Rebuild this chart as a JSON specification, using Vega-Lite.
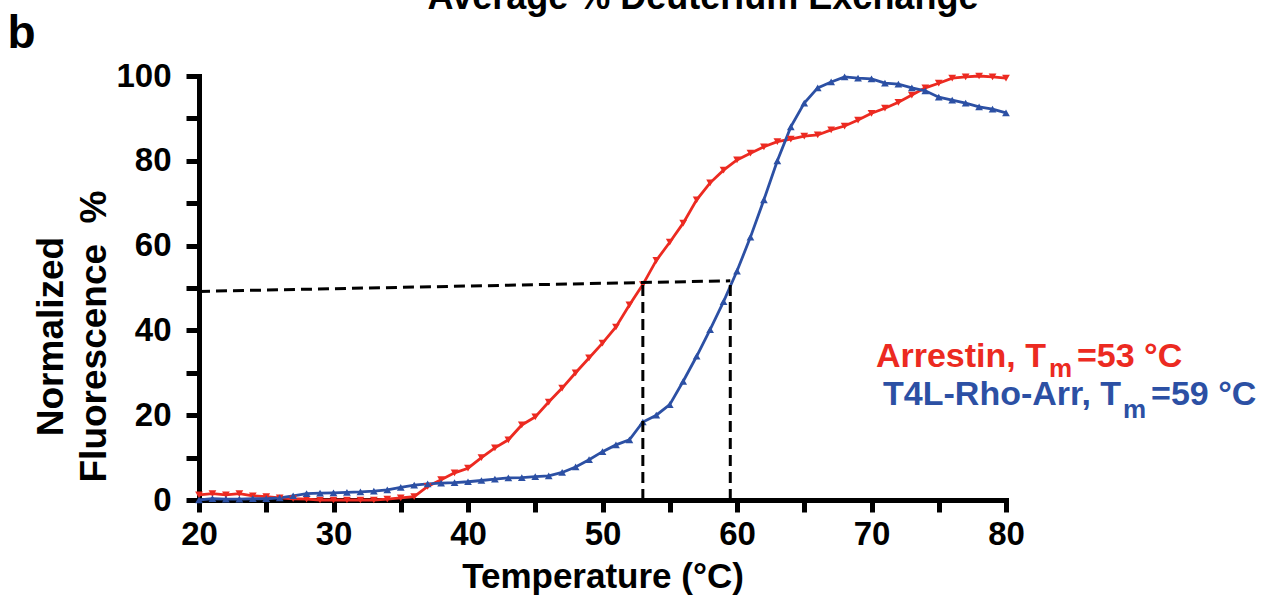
{
  "$schema": "https://vega.github.io/schema/vega-lite/v6.json",
  "width": 807,
  "height": 424,
  "autosize": {"type": "none"},
  "padding": {"left": 199, "top": 76, "right": 258, "bottom": 96},
  "background": "white",
  "config": {
    "view": {"stroke": null},
    "font": "Liberation Sans",
    "axis": {"grid": false, "domainColor": "black", "domainWidth": 5, "tickColor": "black", "labelColor": "black", "titleColor": "black"}
  },
  "datasets": {
    "curves": [
      {"T":20,"v":1.2,"s":"Arrestin"},{"T":21,"v":1.5,"s":"Arrestin"},{"T":22,"v":1.2,"s":"Arrestin"},{"T":23,"v":1.5,"s":"Arrestin"},{"T":24,"v":1.0,"s":"Arrestin"},{"T":25,"v":0.8,"s":"Arrestin"},{"T":26,"v":0.5,"s":"Arrestin"},{"T":27,"v":0.3,"s":"Arrestin"},{"T":28,"v":0.2,"s":"Arrestin"},{"T":29,"v":0.0,"s":"Arrestin"},
      {"T":30,"v":0.0,"s":"Arrestin"},{"T":31,"v":0.0,"s":"Arrestin"},{"T":32,"v":0.0,"s":"Arrestin"},{"T":33,"v":0.0,"s":"Arrestin"},{"T":34,"v":0.2,"s":"Arrestin"},{"T":35,"v":0.5,"s":"Arrestin"},{"T":36,"v":0.8,"s":"Arrestin"},{"T":37,"v":3.2,"s":"Arrestin"},{"T":38,"v":4.8,"s":"Arrestin"},{"T":39,"v":6.4,"s":"Arrestin"},
      {"T":40,"v":7.5,"s":"Arrestin"},{"T":41,"v":10.0,"s":"Arrestin"},{"T":42,"v":12.3,"s":"Arrestin"},{"T":43,"v":14.2,"s":"Arrestin"},{"T":44,"v":17.7,"s":"Arrestin"},{"T":45,"v":19.6,"s":"Arrestin"},{"T":46,"v":23.1,"s":"Arrestin"},{"T":47,"v":26.4,"s":"Arrestin"},{"T":48,"v":30.0,"s":"Arrestin"},{"T":49,"v":33.5,"s":"Arrestin"},
      {"T":50,"v":37.0,"s":"Arrestin"},{"T":51,"v":40.8,"s":"Arrestin"},{"T":52,"v":46.0,"s":"Arrestin"},{"T":53,"v":50.8,"s":"Arrestin"},{"T":54,"v":56.5,"s":"Arrestin"},{"T":55,"v":60.8,"s":"Arrestin"},{"T":56,"v":65.3,"s":"Arrestin"},{"T":57,"v":70.8,"s":"Arrestin"},{"T":58,"v":74.8,"s":"Arrestin"},{"T":59,"v":77.8,"s":"Arrestin"},
      {"T":60,"v":80.2,"s":"Arrestin"},{"T":61,"v":81.8,"s":"Arrestin"},{"T":62,"v":83.3,"s":"Arrestin"},{"T":63,"v":84.5,"s":"Arrestin"},{"T":64,"v":85.1,"s":"Arrestin"},{"T":65,"v":85.8,"s":"Arrestin"},{"T":66,"v":86.1,"s":"Arrestin"},{"T":67,"v":87.3,"s":"Arrestin"},{"T":68,"v":88.2,"s":"Arrestin"},{"T":69,"v":89.6,"s":"Arrestin"},
      {"T":70,"v":91.2,"s":"Arrestin"},{"T":71,"v":92.4,"s":"Arrestin"},{"T":72,"v":93.8,"s":"Arrestin"},{"T":73,"v":95.5,"s":"Arrestin"},{"T":74,"v":97.2,"s":"Arrestin"},{"T":75,"v":98.3,"s":"Arrestin"},{"T":76,"v":99.5,"s":"Arrestin"},{"T":77,"v":99.8,"s":"Arrestin"},{"T":78,"v":100.0,"s":"Arrestin"},{"T":79,"v":99.8,"s":"Arrestin"},
      {"T":80,"v":99.5,"s":"Arrestin"},
      {"T":20,"v":0.0,"s":"T4L-Rho-Arr"},{"T":21,"v":0.3,"s":"T4L-Rho-Arr"},{"T":22,"v":0.2,"s":"T4L-Rho-Arr"},{"T":23,"v":0.2,"s":"T4L-Rho-Arr"},{"T":24,"v":0.3,"s":"T4L-Rho-Arr"},{"T":25,"v":0.3,"s":"T4L-Rho-Arr"},{"T":26,"v":0.5,"s":"T4L-Rho-Arr"},{"T":27,"v":1.0,"s":"T4L-Rho-Arr"},{"T":28,"v":1.5,"s":"T4L-Rho-Arr"},{"T":29,"v":1.6,"s":"T4L-Rho-Arr"},
      {"T":30,"v":1.7,"s":"T4L-Rho-Arr"},{"T":31,"v":1.8,"s":"T4L-Rho-Arr"},{"T":32,"v":1.9,"s":"T4L-Rho-Arr"},{"T":33,"v":2.1,"s":"T4L-Rho-Arr"},{"T":34,"v":2.4,"s":"T4L-Rho-Arr"},{"T":35,"v":3.0,"s":"T4L-Rho-Arr"},{"T":36,"v":3.5,"s":"T4L-Rho-Arr"},{"T":37,"v":3.8,"s":"T4L-Rho-Arr"},{"T":38,"v":4.0,"s":"T4L-Rho-Arr"},{"T":39,"v":4.1,"s":"T4L-Rho-Arr"},
      {"T":40,"v":4.3,"s":"T4L-Rho-Arr"},{"T":41,"v":4.6,"s":"T4L-Rho-Arr"},{"T":42,"v":4.9,"s":"T4L-Rho-Arr"},{"T":43,"v":5.2,"s":"T4L-Rho-Arr"},{"T":44,"v":5.3,"s":"T4L-Rho-Arr"},{"T":45,"v":5.5,"s":"T4L-Rho-Arr"},{"T":46,"v":5.7,"s":"T4L-Rho-Arr"},{"T":47,"v":6.5,"s":"T4L-Rho-Arr"},{"T":48,"v":7.8,"s":"T4L-Rho-Arr"},{"T":49,"v":9.5,"s":"T4L-Rho-Arr"},
      {"T":50,"v":11.4,"s":"T4L-Rho-Arr"},{"T":51,"v":13.0,"s":"T4L-Rho-Arr"},{"T":52,"v":14.2,"s":"T4L-Rho-Arr"},{"T":53,"v":18.4,"s":"T4L-Rho-Arr"},{"T":54,"v":20.0,"s":"T4L-Rho-Arr"},{"T":55,"v":22.5,"s":"T4L-Rho-Arr"},{"T":56,"v":28.0,"s":"T4L-Rho-Arr"},{"T":57,"v":33.9,"s":"T4L-Rho-Arr"},{"T":58,"v":40.2,"s":"T4L-Rho-Arr"},{"T":59,"v":46.8,"s":"T4L-Rho-Arr"},
      {"T":60,"v":54.0,"s":"T4L-Rho-Arr"},{"T":61,"v":62.0,"s":"T4L-Rho-Arr"},{"T":62,"v":70.8,"s":"T4L-Rho-Arr"},{"T":63,"v":80.0,"s":"T4L-Rho-Arr"},{"T":64,"v":88.0,"s":"T4L-Rho-Arr"},{"T":65,"v":93.6,"s":"T4L-Rho-Arr"},{"T":66,"v":97.2,"s":"T4L-Rho-Arr"},{"T":67,"v":98.6,"s":"T4L-Rho-Arr"},{"T":68,"v":99.8,"s":"T4L-Rho-Arr"},{"T":69,"v":99.5,"s":"T4L-Rho-Arr"},
      {"T":70,"v":99.3,"s":"T4L-Rho-Arr"},{"T":71,"v":98.3,"s":"T4L-Rho-Arr"},{"T":72,"v":98.1,"s":"T4L-Rho-Arr"},{"T":73,"v":97.2,"s":"T4L-Rho-Arr"},{"T":74,"v":96.5,"s":"T4L-Rho-Arr"},{"T":75,"v":95.0,"s":"T4L-Rho-Arr"},{"T":76,"v":94.3,"s":"T4L-Rho-Arr"},{"T":77,"v":93.6,"s":"T4L-Rho-Arr"},{"T":78,"v":92.7,"s":"T4L-Rho-Arr"},{"T":79,"v":92.2,"s":"T4L-Rho-Arr"},
      {"T":80,"v":91.3,"s":"T4L-Rho-Arr"}
    ],
    "guides": [
      {"T":20,"v":49.2,"g":"h"},{"T":59.5,"v":51.7,"g":"h"},
      {"T":53,"v":0,"g":"v1"},{"T":53,"v":51.2,"g":"v1"},
      {"T":59.5,"v":0,"g":"v2"},{"T":59.5,"v":51.7,"g":"v2"}
    ],
    "one": [{}]
  },
  "layer": [
    {
      "data": {"name": "curves"},
      "mark": {"type": "line", "strokeWidth": 2.8},
      "encoding": {
        "x": {"field": "T", "type": "quantitative",
          "scale": {"domain": [20, 80], "nice": false, "zero": false},
          "axis": {
            "values": [20,25,30,35,40,45,50,55,60,65,70,75,80],
            "labelExpr": "datum.value % 10 === 0 ? datum.label : ''",
            "labelOverlap": false, "labelFlush": false,
            "domainWidth": 5, "domainCap": "square",
            "ticks": true, "tickWidth": 5, "tickSize": 12,
            "encode": {
              "ticks": {"update": {"y2": {"signal": "datum.value % 10 === 0 ? 12 : 7"}}},
              "domain": {"update": {"strokeWidth": {"value": 5}}}
            },
            "labelFontSize": 33, "labelFontWeight": "bold", "labelPadding": 6,
            "title": "Temperature (°C)", "titleFontSize": 35, "titleFontWeight": "bold", "titlePadding": 8
          }
        },
        "y": {"field": "v", "type": "quantitative",
          "scale": {"domain": [0, 100], "nice": false},
          "axis": {
            "values": [0,10,20,30,40,50,60,70,80,90,100],
            "labelExpr": "datum.value % 20 === 0 ? datum.label : ''",
            "labelOverlap": false, "labelFlush": false,
            "domainWidth": 5, "domainCap": "square",
            "ticks": true, "tickWidth": 5, "tickSize": 13,
            "encode": {
              "ticks": {"update": {"x2": {"signal": "datum.value % 20 === 0 ? -13 : -7"}}},
              "domain": {"update": {"strokeWidth": {"value": 5}}}
            },
            "labelFontSize": 33, "labelFontWeight": "bold", "labelPadding": 15,
            "title": ["Normalized", "Fluorescence \u00a0%"],
            "titleFontSize": 37, "titleFontWeight": "bold", "titleLineHeight": 43,
            "titleAngle": -90, "titleAlign": "center", "titleBaseline": "middle",
            "titleX": -148, "titleY": 260
          }
        },
        "color": {"field": "s", "type": "nominal",
          "scale": {"domain": ["Arrestin", "T4L-Rho-Arr"], "range": ["#ec2a21", "#2c50a4"]},
          "legend": null}
      }
    },
    {
      "data": {"name": "curves"},
      "mark": {"type": "point", "filled": true, "opacity": 1, "size": 60},
      "encoding": {
        "x": {"field": "T", "type": "quantitative"},
        "y": {"field": "v", "type": "quantitative"},
        "color": {"field": "s", "type": "nominal", "legend": null},
        "shape": {"field": "s", "type": "nominal",
          "scale": {"domain": ["Arrestin", "T4L-Rho-Arr"], "range": ["triangle-down", "triangle-up"]},
          "legend": null}
      }
    },
    {
      "data": {"name": "guides"},
      "mark": {"type": "line", "color": "black", "strokeWidth": 3, "strokeDash": [11, 6]},
      "encoding": {
        "x": {"field": "T", "type": "quantitative"},
        "y": {"field": "v", "type": "quantitative"},
        "detail": {"field": "g", "type": "nominal"}
      }
    },
    {
      "data": {"name": "one"},
      "mark": {"type": "text", "text": "Average % Deuterium Exchange", "fontSize": 36, "fontWeight": "bold", "align": "center", "baseline": "alphabetic", "color": "black"},
      "encoding": {"x": {"datum": 57.47}, "y": {"datum": 115.8}}
    },
    {
      "data": {"name": "one"},
      "mark": {"type": "text", "text": "b", "fontSize": 46, "fontWeight": "bold", "align": "center", "baseline": "alphabetic", "color": "black"},
      "encoding": {"x": {"datum": 6.8}, "y": {"datum": 106.5}}
    },
    {
      "data": {"name": "one"},
      "mark": {"type": "text", "text": "Arrestin, T", "fontSize": 34, "fontWeight": "bold", "align": "left", "baseline": "alphabetic", "color": "#ec2a21"},
      "encoding": {"x": {"datum": 70.33}, "y": {"datum": 31.4}}
    },
    {
      "data": {"name": "one"},
      "mark": {"type": "text", "text": "m", "fontSize": 26, "fontWeight": "bold", "align": "left", "baseline": "alphabetic", "color": "#ec2a21", "dx": 173, "dy": 10},
      "encoding": {"x": {"datum": 70.33}, "y": {"datum": 31.4}}
    },
    {
      "data": {"name": "one"},
      "mark": {"type": "text", "text": "=53 °C", "fontSize": 34, "fontWeight": "bold", "align": "left", "baseline": "alphabetic", "color": "#ec2a21", "dx": 201},
      "encoding": {"x": {"datum": 70.33}, "y": {"datum": 31.4}}
    },
    {
      "data": {"name": "one"},
      "mark": {"type": "text", "text": "T4L-Rho-Arr, T", "fontSize": 34, "fontWeight": "bold", "align": "left", "baseline": "alphabetic", "color": "#2c50a4"},
      "encoding": {"x": {"datum": 70.86}, "y": {"datum": 22.4}}
    },
    {
      "data": {"name": "one"},
      "mark": {"type": "text", "text": "m", "fontSize": 26, "fontWeight": "bold", "align": "left", "baseline": "alphabetic", "color": "#2c50a4", "dx": 240, "dy": 13},
      "encoding": {"x": {"datum": 70.86}, "y": {"datum": 22.4}}
    },
    {
      "data": {"name": "one"},
      "mark": {"type": "text", "text": "=59 °C", "fontSize": 34, "fontWeight": "bold", "align": "left", "baseline": "alphabetic", "color": "#2c50a4", "dx": 268},
      "encoding": {"x": {"datum": 70.86}, "y": {"datum": 22.4}}
    }
  ]
}
